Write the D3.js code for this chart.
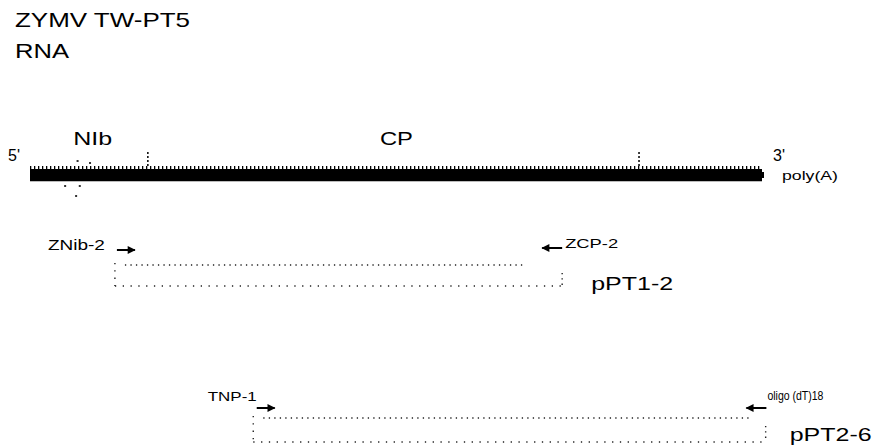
<!DOCTYPE html>
<html>
<head>
<meta charset="utf-8">
<script src="https://cdn.jsdelivr.net/npm/d3@7"></script>
<style>
  html, body { margin: 0; padding: 0; background: #fff; }
  svg { display: block; font-family: "Liberation Sans", Arial, sans-serif; }
</style>
</head>
<body>
<svg id="chart" width="876" height="446"></svg>
<script>
// ---- Data (relative genome position, % of the drawn 3'-terminal region) ----
const title = ["ZYMV TW-PT5", "RNA"];
const genomeEnds = ["5'", "3'"];
const tailLabel = "poly(A)";
const regionNames = ["NIb", "CP"];
const regionLabelPos = [5.9, 47.8];      // label anchor positions
const boundaries = [16.1, 83.2];          // region boundary marks
const primerNames = ["ZNib-2", "ZCP-2", "TNP-1", "oligo (dT)18"];
const primerPos = [11.6, 72.7, 30.7, 100.6];
const primerDir = [1, -1, 1, -1];
const cloneNames = ["pPT1-2", "pPT2-6"];
const cloneStart = [11.6, 30.5];
const cloneEnd = [72.7, 100.5];
const cloneTopEnd = [67.4, 98.4];

const svg = d3.select("#chart");
const x = d3.scaleLinear().domain([0, 100]).range([30, 762]);

// Title
svg.append("text").attr("x", 15).attr("y", 27).attr("font-size", 21)
  .attr("textLength", 175).attr("lengthAdjust", "spacingAndGlyphs").text(title[0]);
svg.append("text").attr("x", 15).attr("y", 58).attr("font-size", 21)
  .attr("textLength", 54).attr("lengthAdjust", "spacingAndGlyphs").text(title[1]);

// Genome bar
const barTop = 169, barH = 12;
svg.append("rect").attr("x", x(0)).attr("y", barTop).attr("width", x(100) - x(0))
  .attr("height", barH).attr("fill", "#000");
// tick texture along the top of the bar
svg.append("line").attr("x1", x(0)).attr("x2", x(100)).attr("y1", barTop - 1.5).attr("y2", barTop - 1.5)
  .attr("stroke", "#000").attr("stroke-width", 3).attr("stroke-dasharray", "1.3,2.7");
// grey shadow line under bar
svg.append("line").attr("x1", x(0)).attr("x2", x(100)).attr("y1", barTop + barH + 0.5).attr("y2", barTop + barH + 0.5)
  .attr("stroke", "#bbb").attr("stroke-width", 1);
// small end nub at 3'
svg.append("rect").attr("x", x(100)).attr("y", barTop + 3).attr("width", 2).attr("height", 6).attr("fill", "#000");

// boundary marks
svg.selectAll("line.bound").data(boundaries).join("line").attr("class", "bound")
  .attr("x1", d => x(d)).attr("x2", d => x(d)).attr("y1", 152).attr("y2", 166)
  .attr("stroke", "#000").attr("stroke-width", 1.5).attr("stroke-dasharray", "2,2");

// a few faint dots near the NIb start
[[6.5, 161], [8.2, 163], [4.8, 186], [6.8, 186], [6.3, 196]].forEach(p => {
  svg.append("rect").attr("x", x(p[0]) - 1).attr("y", p[1] - 1).attr("width", 2).attr("height", 2).attr("fill", "#333");
});

// region labels
svg.selectAll("text.region").data(regionNames).join("text").attr("class", "region")
  .attr("x", (d, i) => x(regionLabelPos[i])).attr("y", 145).attr("font-size", 18)
  .attr("textLength", (d, i) => i === 0 ? 39 : 33).attr("lengthAdjust", "spacingAndGlyphs")
  .text(d => d);

// 5' / 3' / poly(A)
svg.append("text").attr("x", 8).attr("y", 161).attr("font-size", 16).text(genomeEnds[0]);
svg.append("text").attr("x", 773).attr("y", 161).attr("font-size", 16).text(genomeEnds[1]);
svg.append("text").attr("x", 782).attr("y", 180).attr("font-size", 12)
  .attr("textLength", 56).attr("lengthAdjust", "spacingAndGlyphs").text(tailLabel);

// arrow marker
svg.append("defs").append("marker").attr("id", "ah").attr("viewBox", "0 0 10 10")
  .attr("refX", 9).attr("refY", 5).attr("markerWidth", 4.5).attr("markerHeight", 4)
  .attr("markerUnits", "strokeWidth").attr("orient", "auto")
  .append("path").attr("d", "M0,0 L10,5 L0,10 Z").attr("fill", "#000");

// clones (dotted boxes)
const cloneY = [[265, 286], [418, 442]];
const cloneLabelBase = [290, 441];
cloneNames.forEach((name, i) => {
  const x0 = x(cloneStart[i]), x1 = x(cloneEnd[i]);
  const [y0, y1] = cloneY[i];
  const g = svg.append("g");
  g.append("line").attr("x1", x0 + 10).attr("x2", x(cloneTopEnd[i])).attr("y1", y0).attr("y2", y0)
    .attr("stroke", "#222").attr("stroke-width", 1.4).attr("stroke-dasharray", "1.3,4.2");
  g.append("line").attr("x1", x0).attr("x2", x1).attr("y1", y1).attr("y2", y1)
    .attr("stroke", "#222").attr("stroke-width", 1.4).attr("stroke-dasharray", "1.3,6.5");
  g.append("line").attr("x1", x0).attr("x2", x0).attr("y1", y0 - 2).attr("y2", y1)
    .attr("stroke", "#222").attr("stroke-width", 1.4).attr("stroke-dasharray", "1.3,6");
  g.append("line").attr("x1", x1).attr("x2", x1).attr("y1", y0 + 8).attr("y2", y1)
    .attr("stroke", "#222").attr("stroke-width", 1.4).attr("stroke-dasharray", "1.3,4");
  svg.append("text").attr("x", i === 0 ? x1 + 29 : x1 + 24).attr("y", cloneLabelBase[i]).attr("font-size", 18)
    .attr("textLength", 82).attr("lengthAdjust", "spacingAndGlyphs").text(name);
});

// primers
const primerY = [250, 248, 408, 408];
const primerLabel = [
  {dx: -67, dy: 0, len: 57, fs: 14},
  {dx: 3, dy: 0, len: 53, fs: 13},
  {dx: -47, dy: -7, len: 49, fs: 13},
  {dx: 1, dy: -8, len: 56, fs: 12}
];
primerNames.forEach((name, i) => {
  const px = x(primerPos[i]);
  const y = primerY[i];
  const x1 = primerDir[i] > 0 ? px + 2 : px;
  const x2 = primerDir[i] > 0 ? px + 20 : px - 20;
  svg.append("line").attr("x1", x1).attr("x2", x2).attr("y1", y).attr("y2", y)
    .attr("stroke", "#000").attr("stroke-width", 2).attr("marker-end", "url(#ah)");
  const L = primerLabel[i];
  svg.append("text").attr("x", px + L.dx).attr("y", y + L.dy).attr("font-size", L.fs)
    .attr("textLength", L.len).attr("lengthAdjust", "spacingAndGlyphs").text(name);
});
</script>
</body>
</html>
